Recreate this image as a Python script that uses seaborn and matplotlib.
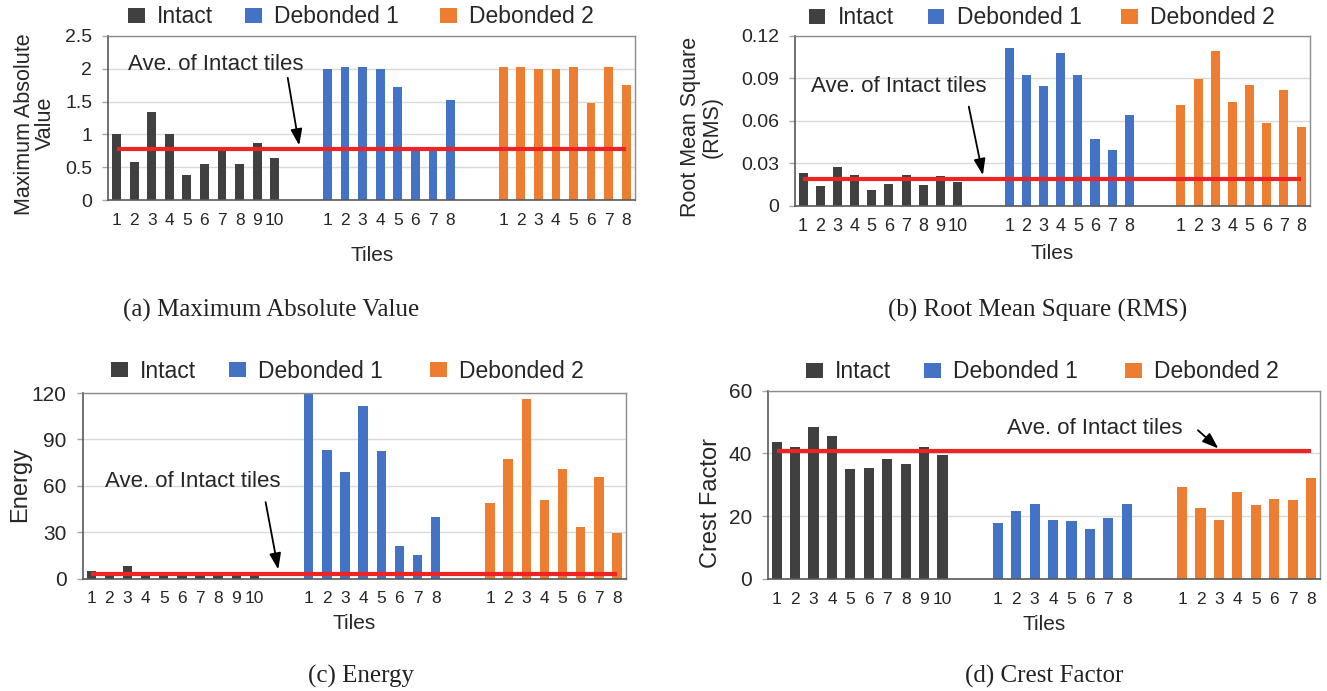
import numpy as np
import pandas as pd
import seaborn as sns
import matplotlib
matplotlib.use("Agg")
import matplotlib.pyplot as plt

# ---------------- data ----------------
groups = ["Intact", "Debonded 1", "Debonded 2"]
group_colors = ["#404040", "#4472C4", "#ED7D31"]

mav_intact = [1.00, 0.58, 1.34, 1.00, 0.39, 0.55, 0.79, 0.55, 0.87, 0.65]
mav_deb1 = [2.00, 2.02, 2.02, 2.00, 1.72, 0.77, 0.77, 1.53]
mav_deb2 = [2.02, 2.02, 2.00, 2.00, 2.02, 1.48, 2.02, 1.75]

rms_intact = [0.0233, 0.0139, 0.0273, 0.0216, 0.0113, 0.0153, 0.0216, 0.0146, 0.0210, 0.0170]
rms_deb1 = [0.1115, 0.0924, 0.0846, 0.1077, 0.0924, 0.0469, 0.0396, 0.0641]
rms_deb2 = [0.0712, 0.0896, 0.1091, 0.0731, 0.0855, 0.0587, 0.0815, 0.0556]

energy_intact = [5.0, 1.5, 8.0, 2.8, 1.5, 2.8, 2.8, 2.8, 2.8, 2.8]
energy_deb1 = [120.0, 83.2, 68.8, 111.4, 82.6, 20.9, 15.3, 39.8]
energy_deb2 = [49.1, 77.3, 116.0, 50.7, 70.6, 33.2, 65.4, 29.6]

crest_intact = [43.5, 42.1, 48.5, 45.7, 35.2, 35.5, 38.1, 36.8, 42.2, 39.4]
crest_deb1 = [17.7, 21.6, 23.8, 18.9, 18.4, 15.9, 19.5, 23.8]
crest_deb2 = [29.2, 22.7, 18.7, 27.7, 23.7, 25.6, 25.1, 32.1]

ylabels = ["Maximum Absolute\nValue", "Root Mean Square\n(RMS)", "Energy", "Crest Factor"]
captions = ["(a) Maximum Absolute Value", "(b) Root Mean Square (RMS)", "(c) Energy", "(d) Crest Factor"]
y_ticks = [[0, 0.5, 1, 1.5, 2, 2.5], [0, 0.03, 0.06, 0.09, 0.12], [0, 30, 60, 90, 120], [0, 20, 40, 60]]
y_ticklabels = [["0", "0.5", "1", "1.5", "2", "2.5"], ["0", "0.03", "0.06", "0.09", "0.12"],
                ["0", "30", "60", "90", "120"], ["0", "20", "40", "60"]]
annot_text = "Ave. of Intact tiles"
x_title = "Tiles"

datasets = [
    (mav_intact, mav_deb1, mav_deb2),
    (rms_intact, rms_deb1, rms_deb2),
    (energy_intact, energy_deb1, energy_deb2),
    (crest_intact, crest_deb1, crest_deb2),
]

# ---------------- layout ----------------
W, H = 1327, 691
sns.set_theme(style="white")
plt.rcParams["font.family"] = ["Liberation Sans", "DejaVu Sans"]

fig = plt.figure(figsize=(W / 100, H / 100), dpi=100)
fig.patch.set_facecolor("white")

# axes rects in pixels: left, top, width, height
rects = [(108.3, 35.7, 526.7, 164.6), (795, 35.7, 514.7, 170),
         (82.7, 393, 543.3, 185.7), (768, 390.7, 552.3, 188.3)]
bar_w = [0.5, 0.53, 0.52, 0.55]
ytick_fs = [14, 14, 15, 15]
xtick_fs = [12.5, 13, 12.5, 12.5]
ylabel_fs = [15.5, 15.5, 17, 17]
ylabel_xy = [(-0.140, 0.465), (-0.182, 0.465), (-0.115, 0.505), (-0.103, 0.406)]
tiles_y = [-0.334, -0.284, -0.24, -0.244]
# legend entries: left x of each key (px) and y centre (px)
legend_x = [(128, 245, 440), (809, 928, 1121), (111, 229, 430), (806, 924, 1125)]
legend_yc = [17, 18, 371, 372]
# annotation: text x (frac), text y (frac), ha, tail x (pos), tail y (frac), head x (pos)
annots = [(0.038, 0.828, "left", 9.74, 0.744, 10.43),
          (0.032, 0.70, "left", 9.65, 0.583, 10.52),
          (0.041, 0.522, "left", 9.62, 0.412, 10.36),
          (0.751, 0.797, "right", 22.86, 0.79, 24.14)]
caption_xy = [(271, 310), (1038, 310), (361, 676), (1044, 676)]
gap = 2
fs_leg = 16.5

for i, (vals, rect) in enumerate(zip(datasets, rects)):
    l, t, w, h = rect
    ax = fig.add_axes([l / W, 1 - (t + h) / H, w / W, h / H])
    rows = []
    start = 0
    for g, v in zip(groups, vals):
        for k, val in enumerate(v):
            rows.append({"pos": start + k, "tile": str(k + 1), "value": val, "group": g})
        start += len(v) + gap
    df = pd.DataFrame(rows)
    sns.barplot(data=df, x="pos", y="value", hue="group", hue_order=groups,
                palette=dict(zip(groups, group_colors)), native_scale=True,
                dodge=False, width=bar_w[i], saturation=1, linewidth=0, ax=ax)
    mean_val = float(np.mean(vals[0]))
    ax.plot([df["pos"].min(), df["pos"].max()], [mean_val, mean_val],
            color="#EE2424", lw=3, solid_capstyle="butt", zorder=5)

    ax.set_xlim(-0.47, 29.5)
    ax.set_ylim(y_ticks[i][0], y_ticks[i][-1])
    ax.set_yticks(y_ticks[i])
    ax.set_yticklabels(y_ticklabels[i], fontsize=ytick_fs[i])
    ax.set_xticks(df["pos"])
    ax.set_xticklabels(df["tile"], fontsize=xtick_fs[i])
    ax.tick_params(axis="x", length=0, pad=9)
    ax.tick_params(axis="y", length=4.5, width=1, color="#A6A6A6", pad=7, left=True)
    ax.yaxis.grid(True, color="#D9D9D9", lw=1)
    ax.set_axisbelow(True)
    for s in ["top", "right"]:
        ax.spines[s].set_color("#8C8C8C")
        ax.spines[s].set_linewidth(1)
    for s in ["left", "bottom"]:
        ax.spines[s].set_color("#595959")
        ax.spines[s].set_linewidth(1.2)

    ax.set_ylabel(ylabels[i], fontsize=ylabel_fs[i], linespacing=1.0)
    ax.yaxis.label.set_va("center")
    ax.yaxis.set_label_coords(*ylabel_xy[i])
    ax.set_xlabel(x_title, fontsize=15)
    ax.xaxis.label.set_va("center")
    ax.xaxis.set_label_coords(0.5, tiles_y[i])

    # legend: one entry per group, placed like the spreadsheet legend
    handles, labels = ax.get_legend_handles_labels()
    if ax.get_legend() is not None:
        ax.get_legend().remove()
    yc = 1 + (t - legend_yc[i]) / h
    legs = []
    for hd, lb, xk in zip(handles, labels, legend_x[i]):
        leg = ax.legend([hd], [lb], loc="center left",
                        bbox_to_anchor=((xk - l) / w, yc), frameon=False,
                        fontsize=fs_leg, handlelength=0.72, handleheight=0.6,
                        handletextpad=0.55, borderpad=0, borderaxespad=0)
        legs.append(leg)
    for leg in legs[:-1]:
        ax.add_artist(leg)

    tx, ty, ha, ax_tail, ay_tail, hx = annots[i]
    ax.text(tx, ty, annot_text, transform=ax.transAxes, fontsize=16, ha=ha, va="center")
    ax.annotate("", xy=(hx, mean_val), xycoords="data",
                xytext=(ax_tail, ay_tail), textcoords=("data", "axes fraction"),
                arrowprops=dict(arrowstyle="-|>,head_length=0.7,head_width=0.25",
                                color="black", lw=1.3, shrinkA=0, shrinkB=3,
                                mutation_scale=14), zorder=6)

    cx, cy = caption_xy[i]
    fig.text(cx / W, 1 - cy / H, captions[i], ha="center", va="center",
             fontsize=18, family=["Liberation Serif", "DejaVu Serif"], color="#222222")

fig.savefig("out.png", dpi=100, facecolor="white")
